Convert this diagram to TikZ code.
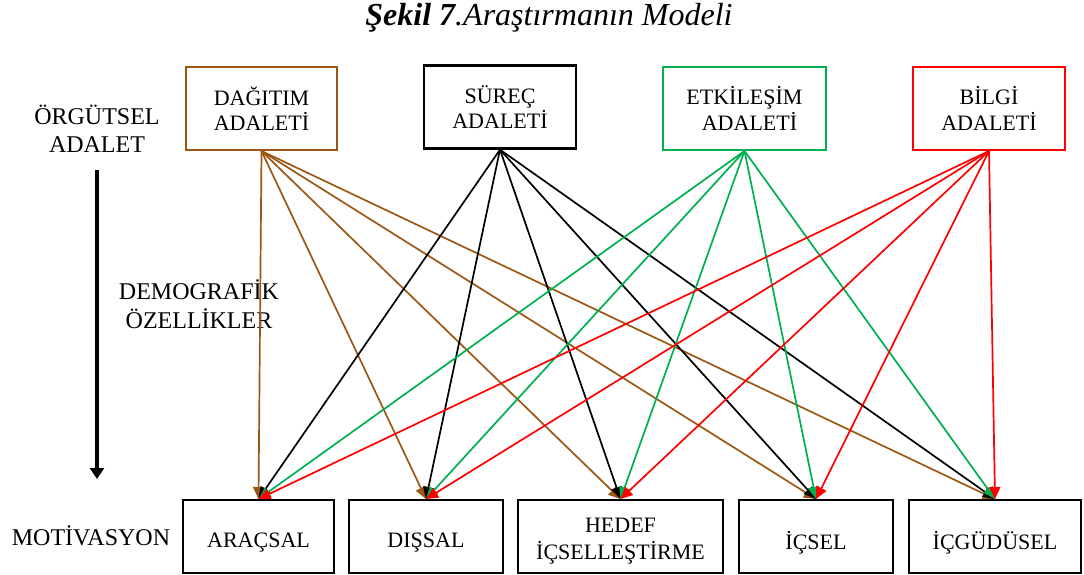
\documentclass[tikz,border=0pt]{standalone}
\usepackage{fontspec}
\setmainfont{Liberation Serif}
\usetikzlibrary{arrows.meta}
\definecolor{dbrown}{RGB}{156,87,20}
\definecolor{dgreen}{RGB}{0,176,80}
\definecolor{dred}{RGB}{255,0,0}
\tikzset{
  box/.style={draw, line width=2pt, inner sep=0pt, align=center,
    font=\fontsize{22}{25.5}\selectfont},
  topbox/.style={box, minimum height=83pt},
  botbox/.style={box, minimum height=73pt, draw=black},
  boxtext/.style={inner sep=0pt, align=center, font=\fontsize{22}{27.5}\selectfont},
  sidelabel/.style={align=center, inner sep=0pt, font=\fontsize{24}{28.5}\selectfont},
  link/.style={line width=1.7pt, -{Triangle[length=12pt,width=11pt]}},
  flow/.style={line width=4.5pt, -{Triangle[length=11pt,width=14pt]}}
}
\begin{document}
\begin{tikzpicture}[x=1pt,y=-1pt]
\useasboundingbox (0,0) rectangle (1084,574);

% caption
\node[inner sep=0pt, anchor=base, font=\fontsize{32}{36}\selectfont] (title) at (549,25)
  {{\bfseries\itshape Şekil 7}{\itshape .Araştırmanın Modeli}};

% justice dimensions
\node[topbox, draw=dbrown, minimum width=151pt] (dag) at (261.5,108.5) {DAĞITIM\\ADALETİ};
\node[topbox, draw=black, minimum width=152pt, line width=2.3pt] (sur) at (500,107) {SÜREÇ\\ADALETİ};
\node[topbox, draw=dgreen, minimum width=163pt] (etk) at (744.5,108.5) {ETKİLEŞİM\\\hspace*{10pt}ADALETİ};
\node[topbox, draw=dred, minimum width=152pt] (bil) at (989,108.5) {BİLGİ\\ADALETİ};

% motivation types: frames
\node[botbox, minimum width=151pt] (arac) at (258.5,536.5) {};
\node[botbox, minimum width=154pt] (dis) at (426,536.5) {};
\node[botbox, minimum width=205pt] (hed) at (620.5,536.5) {};
\node[botbox, minimum width=154pt] (ics) at (816,536.5) {};
\node[botbox, minimum width=172pt] (icg) at (995,536.5) {};

% motivation types: labels
\node[boxtext, anchor=base] (aracT) at (258.5,547) {ARAÇSAL};
\node[boxtext, anchor=base] (disT) at (426,547) {DIŞSAL};
\node[boxtext] (hedT) at (620.5,541) {HEDEF\\İÇSELLEŞTİRME};
\node[boxtext, anchor=base] (icsT) at (816,549) {İÇSEL};
\node[boxtext, anchor=base] (icgT) at (995,549) {İÇGÜDÜSEL};

% side labels
\node[sidelabel] (org) at (97,129) {ÖRGÜTSEL\\ADALET};
\node[sidelabel] (dem) at (199,304) {DEMOGRAFİK\\ÖZELLİKLER};
\node[sidelabel] (mot) at (91,536) {MOTİVASYON};

\coordinate (flowtop) at (97,170);
\coordinate (flowend) at (97,479);
\draw[flow] (flowtop) -- (flowend);

% links from every justice dimension to every motivation type
\foreach \t in {arac,dis,hed,ics,icg} \draw[link, dbrown] (dag.south) -- (\t.north);
\foreach \t in {arac,dis,hed,ics,icg} \draw[link, black] (sur.south) -- (\t.north);
\foreach \t in {arac,dis,hed,ics,icg} \draw[link, dgreen] (etk.south) -- (\t.north);
\foreach \t in {arac,dis,hed,ics,icg} \draw[link, dred] (bil.south) -- (\t.north);
\end{tikzpicture}
\end{document}
